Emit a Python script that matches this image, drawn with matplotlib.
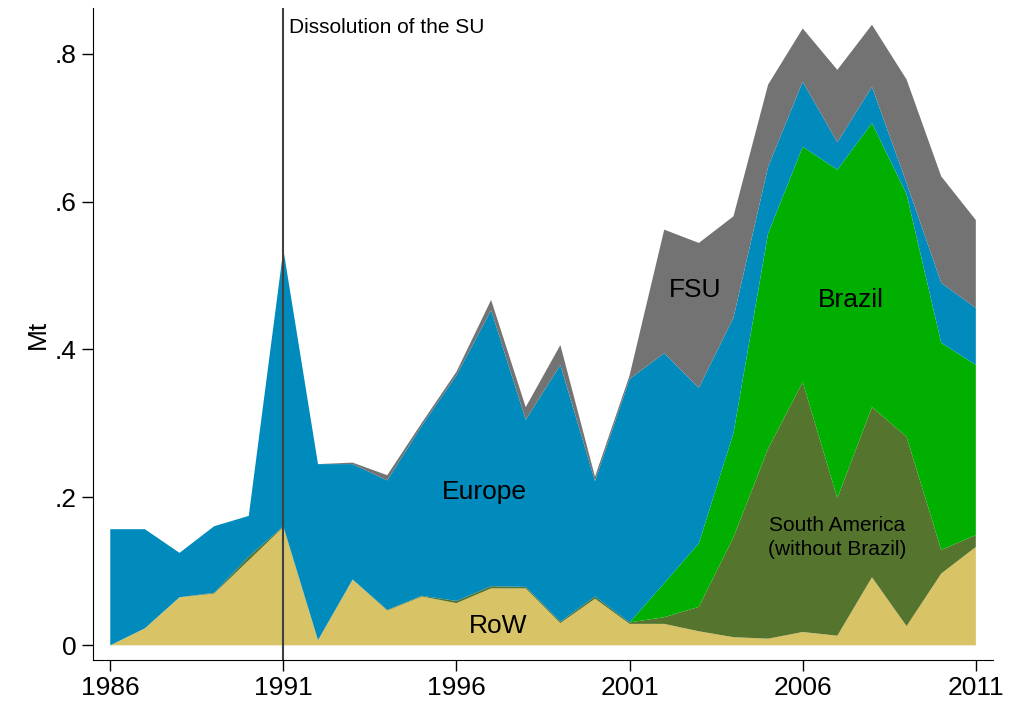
import numpy as np
import matplotlib.pyplot as plt

plt.rcParams['font.family'] = ['Liberation Sans', 'DejaVu Sans']

years = np.arange(1986, 2012)

# Mt per region, stacked from the bottom up
row = [0.0, 0.023, 0.065, 0.07, 0.115, 0.16, 0.007, 0.089, 0.047, 0.066,
       0.057, 0.077, 0.077, 0.03, 0.063, 0.029, 0.029, 0.019, 0.011, 0.009,
       0.018, 0.013, 0.092, 0.026, 0.097, 0.133]
south_america = [0, 0, 0, 0.001, 0.005, 0.001, 0, 0, 0.001, 0.001,
                 0.003, 0.003, 0.002, 0.002, 0.003, 0.002, 0.009, 0.033, 0.135, 0.257,
                 0.338, 0.186, 0.23, 0.256, 0.032, 0.016]
brazil = [0, 0, 0, 0, 0, 0, 0, 0, 0, 0,
          0, 0, 0, 0, 0, 0, 0.046, 0.086, 0.141, 0.291,
          0.318, 0.444, 0.384, 0.328, 0.28, 0.23]
europe = [0.157, 0.134, 0.06, 0.09, 0.055, 0.374, 0.238, 0.156, 0.175, 0.23,
          0.305, 0.373, 0.226, 0.347, 0.156, 0.329, 0.311, 0.21, 0.156, 0.09,
          0.088, 0.037, 0.049, 0.015, 0.081, 0.077]
fsu = [0, 0, 0, 0, 0, 0, 0, 0.002, 0.007, 0.004,
       0.005, 0.014, 0.017, 0.027, 0.006, 0.005, 0.167, 0.196, 0.137, 0.111,
       0.072, 0.098, 0.084, 0.14, 0.144, 0.119]

colors = ['#d8c366', '#55752f', '#00af00', '#008bbc', '#737373']

fig = plt.figure(figsize=(10.16, 7.03), dpi=100)
ax = fig.add_axes([0.0915, 0.061, 0.886, 0.928])

ax.stackplot(years, row, south_america, brazil, europe, fsu,
             colors=colors, linewidth=0)

ax.axvline(1991, color='#404040', lw=1.5)
ax.text(1991.17, 0.835, 'Dissolution of the SU', fontsize=15, va='center')

ax.text(2002.9, 0.48, 'FSU', fontsize=19, ha='center', va='center')
ax.text(2007.4, 0.467, 'Brazil', fontsize=19, ha='center', va='center')
ax.text(1996.8, 0.207, 'Europe', fontsize=19, ha='center', va='center')
ax.text(2007.0, 0.146, 'South America\n(without Brazil)', fontsize=15,
        ha='center', va='center', linespacing=1.35)
ax.text(1997.2, 0.026, 'RoW', fontsize=19, ha='center', va='center')

ax.set_xlim(1985.5, 2011.5)
ax.set_ylim(-0.02, 0.862)
ax.set_xticks([1986, 1991, 1996, 2001, 2006, 2011])
ax.set_yticks([0, 0.2, 0.4, 0.6, 0.8])
ax.set_yticklabels(['0', '.2', '.4', '.6', '.8'])
ax.set_ylabel('Mt', fontsize=19)
ax.tick_params(labelsize=19, length=8, width=1)

for s in ['top', 'right']:
    ax.spines[s].set_visible(False)

plt.savefig('out.png')
